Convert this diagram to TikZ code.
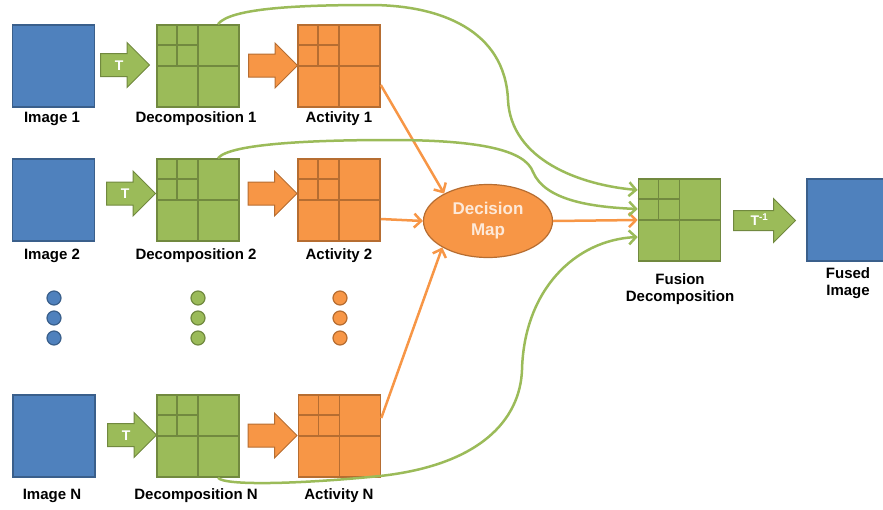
\documentclass[tikz,border=0pt]{standalone}
\usepackage{fontspec}
\setmainfont{Liberation Sans}
\usetikzlibrary{shapes.geometric,shapes.arrows,arrows.meta,calc}
\definecolor{bfill}{HTML}{4F81BD}
\definecolor{bdraw}{HTML}{3A5F8B}
\definecolor{gfill}{HTML}{9BBB59}
\definecolor{gdraw}{HTML}{71893F}
\definecolor{ofill}{HTML}{F79646}
\definecolor{odraw}{HTML}{B66D31}
\definecolor{cream}{HTML}{FDE9D9}
\newcommand\quadgrid[2]{%
 \draw[#2, line width=1.6pt] (#1.north) -- (#1.south) (#1.west) -- (#1.east)
   ($(#1.north west)!.25!(#1.north east)$) -- ($(#1.west)!.5!(#1.center)$)
   ($(#1.north west)!.5!(#1.west)$) -- ($(#1.north)!.5!(#1.center)$);}
\tikzset{
 sq/.style={minimum size=82pt, inner sep=0pt, line width=1.6pt},
 imgsq/.style={sq, fill=bfill, draw=bdraw},
 decsq/.style={sq, fill=gfill, draw=gdraw},
 actsq/.style={sq, fill=ofill, draw=odraw},
 lbl/.style={font=\fontsize{15}{17}\selectfont\bfseries, text=black, align=center, inner sep=0pt},
 blockarrow/.style={single arrow, single arrow head indent=0pt, inner xsep=0pt, line width=1pt, anchor=tail},
 tarrow/.style={blockarrow, fill=gfill, draw=gdraw, text=white, font=\fontsize{14}{14}\selectfont\bfseries, text height=10pt, text depth=0pt, inner ysep=6pt, single arrow head extend=11pt, minimum height=49pt},
 oarrow/.style={blockarrow, fill=ofill, draw=odraw, text height=0pt, text depth=0pt, inner ysep=11pt, single arrow head extend=11pt, minimum height=49pt},
 dotb/.style={circle, minimum size=14pt, inner sep=0pt, line width=1.2pt, fill=bfill, draw=bdraw},
 dotg/.style={circle, minimum size=14pt, inner sep=0pt, line width=1.2pt, fill=gfill, draw=gdraw},
 doto/.style={circle, minimum size=14pt, inner sep=0pt, line width=1.2pt, fill=ofill, draw=odraw},
 gline/.style={draw=gfill, line width=2.5pt, -{Straight Barb[length=7pt,width=14pt]}},
 oline/.style={draw=ofill, line width=2.5pt, -{Straight Barb[length=7pt,width=14pt]}}
}
\begin{document}
\begin{tikzpicture}[x=1pt,y=-1pt]
\useasboundingbox (0,0) rectangle (883,509);
% squares
\node[imgsq] (img1) at (53.5,66) {};
\node[decsq] (dec1) at (198,66) {};
\node[actsq] (act1) at (339,66) {};
\node[imgsq] (img2) at (53.5,200) {};
\node[decsq] (dec2) at (198,200) {};
\node[actsq] (act2) at (339,200) {};
\node[imgsq] (imgN) at (54,436) {};
\node[decsq] (decN) at (198,436) {};
\node[actsq] (actN) at (339.5,436) {};
\node[decsq] (fus) at (679.5,220) {};
\node[imgsq] (fused) at (848,220) {};
\quadgrid{dec1}{gdraw}
\quadgrid{dec2}{gdraw}
\quadgrid{decN}{gdraw}
\quadgrid{fus}{gdraw}
\quadgrid{act1}{odraw}
\quadgrid{act2}{odraw}
\quadgrid{actN}{odraw}
% block arrows
\node[tarrow] (t1) at (100,65) {T};
\node[tarrow] (t2) at (106,193.5) {T};
\node[tarrow] (tN) at (107,435) {T};
\node[oarrow] (o1) at (248,65.5) {};
\node[oarrow] (o2) at (247.5,193.5) {};
\node[oarrow] (oN) at (247.5,435.5) {};
\node[tarrow, inner ysep=4.5pt, single arrow head extend=12pt, minimum height=62pt] (tinv) at (733,220.5) {T\textsuperscript{-1}};
% decision map
\node[ellipse, minimum width=129pt, minimum height=73pt, inner sep=0pt, fill=ofill, draw=odraw, line width=1.2pt, text=cream, font=\fontsize{17}{21}\selectfont\bfseries, align=center] (dm) at (488,221) {Decision\\Map};
% dots
\foreach \y/\n in {298/a,318/b,338/c}{
  \node[dotb] (db\n) at (54,\y) {};
  \node[dotg] (dg\n) at (198,\y) {};
  \node[doto] (do\n) at (340,\y) {};
}
% labels
\node[lbl] (limg1) at (52,119) {Image 1};
\node[lbl] (ldec1) at (196,119) {Decomposition 1};
\node[lbl] (lact1) at (339,119) {Activity 1};
\node[lbl] (limg2) at (52,256) {Image 2};
\node[lbl] (ldec2) at (196,256) {Decomposition 2};
\node[lbl] (lact2) at (339,256) {Activity 2};
\node[lbl] (limgN) at (52,496) {Image N};
\node[lbl] (ldecN) at (196,496) {Decomposition N};
\node[lbl] (lactN) at (339,496) {Activity N};
\node[lbl] (lfus) at (680,289) {Fusion\\Decomposition};
\node[lbl] (lfused) at (848,283) {Fused\\Image};
% orange connectors
\draw[oline] ([yshift=-19pt]act1.east) -- (dm.148);
\draw[oline] ([yshift=-19pt]act2.east) -- (dm.west);
\draw[oline] ([yshift=18pt]actN.east) -- (dm.210);
\draw[oline] (dm.east) -- (fus.west);
% green connectors
\draw[gline] ([xshift=20pt]dec1.north) .. controls (230,8) and (300,5) .. (370,5)
   .. controls (440,5) and (505,30) .. (508,100)
   .. controls (511,160) and (580,185) .. ([yshift=30pt]fus.west);
\draw[gline] ([xshift=20pt]dec2.north) .. controls (230,143) and (320,140) .. (390,140)
   .. controls (480,140) and (525,150) .. (533,172)
   .. controls (545,200) and (590,207) .. ([yshift=11pt]fus.west);
\draw[gline] ([xshift=20pt]decN.south) .. controls (225,486) and (300,484) .. (380,476)
   .. controls (480,465) and (520,420) .. (522,370)
   .. controls (524,290) and (575,240) .. ([yshift=-17pt]fus.west);
\end{tikzpicture}
\end{document}
